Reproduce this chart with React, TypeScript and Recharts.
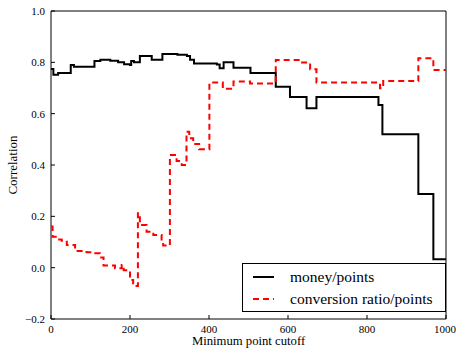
import { LineChart, Line, XAxis, YAxis, Legend, ReferenceArea } from 'recharts';

// minimum point cutoff -> correlation
const moneyCutoff = [0, 6, 18, 50, 58, 110, 125, 150, 170, 185, 200, 203, 210, 225, 255, 282, 320, 344, 352, 362, 420, 427, 437, 462, 505, 569, 605, 647, 672, 829, 839, 930, 968, 1000];
const moneyCorr = [0.774, 0.752, 0.758, 0.79, 0.783, 0.805, 0.81, 0.806, 0.8, 0.793, 0.79, 0.805, 0.8, 0.825, 0.81, 0.832, 0.83, 0.825, 0.81, 0.795, 0.792, 0.777, 0.8, 0.779, 0.758, 0.705, 0.665, 0.621, 0.665, 0.634, 0.52, 0.287, 0.033, 0.033];

const ratioCutoff = [0, 4, 15, 27, 40, 61, 90, 103, 124, 133, 162, 179, 184, 200, 208, 220, 225, 242, 259, 280, 284, 301, 318, 331, 343, 350, 360, 375, 401, 435, 462, 504, 569, 630, 656, 672, 833, 841, 930, 968, 1000];
const ratioCorr = [0.16, 0.12, 0.11, 0.105, 0.088, 0.065, 0.06, 0.056, 0.04, 0.008, -0.002, 0.01, -0.01, -0.048, -0.071, 0.212, 0.166, 0.14, 0.127, 0.1, 0.086, 0.439, 0.416, 0.4, 0.53, 0.504, 0.482, 0.461, 0.721, 0.697, 0.725, 0.718, 0.809, 0.799, 0.773, 0.721, 0.699, 0.727, 0.816, 0.77, 0.77];

const xTicks = [0, 200, 400, 600, 800, 1000];
const yTicks = [-0.2, 0, 0.2, 0.4, 0.6, 0.8, 1.0];

const moneyData = moneyCutoff.map((x, i) => ({ x, y: moneyCorr[i] }));
const ratioData = ratioCutoff.map((x, i) => ({ x, y: ratioCorr[i] }));

const FONT = "'Liberation Serif', 'DejaVu Serif', serif";

const fmtY = (v: number) => (v < 0 ? '\u2212' : '') + Math.abs(v).toFixed(1);

function LegendBox() {
  const row = { display: 'flex', alignItems: 'center', height: 22 };
  return (
    <div style={{ border: '1px solid #000', background: '#fff', width: 204, height: 49, fontFamily: FONT, fontSize: 15.5, padding: '2px 0 0 0', boxSizing: 'border-box' }}>
      <div style={row}>
        <svg width={47} height={10}><line x1={10} y1={5} x2={31} y2={5} stroke="#000" strokeWidth={2} /></svg>
        <span>money/points</span>
      </div>
      <div style={row}>
        <svg width={47} height={10}><line x1={10} y1={5} x2={31} y2={5} stroke="#ff0000" strokeWidth={2} strokeDasharray="6 4" /></svg>
        <span>conversion ratio/points</span>
      </div>
    </div>
  );
}

export default function App() {
  return (
    <div style={{ position: 'absolute', left: 0, top: 0, background: '#fff', fontFamily: FONT }}>
      <LineChart width={456} height={349} margin={{ top: 11, right: 10, left: 0, bottom: 0 }} style={{ fontFamily: FONT }}>
        <XAxis
          xAxisId="bottom"
          type="number"
          dataKey="x"
          domain={[0, 1000]}
          ticks={xTicks}
          height={30}
          axisLine={false}
          tickSize={-4}
          tickMargin={10}
          tickLine={{ stroke: '#000' }}
          tick={{ fill: '#000', fontFamily: FONT, fontSize: 11 }}
          label={{ value: 'Minimum point cutoff', position: 'insideBottom', offset: 4, fill: '#000', fontFamily: FONT, fontSize: 12.7 }}
        />
        <XAxis
          xAxisId="top"
          orientation="top"
          type="number"
          domain={[0, 1000]}
          ticks={xTicks}
          height={0}
          axisLine={false}
          tickSize={-4}
          tickLine={{ stroke: '#000' }}
          tick={false}
        />
        <YAxis
          yAxisId="left"
          type="number"
          domain={[-0.2, 1.0]}
          ticks={yTicks}
          width={51}
          axisLine={false}
          tickSize={-4}
          tickMargin={10}
          tickLine={{ stroke: '#000' }}
          tickFormatter={fmtY}
          tick={{ fill: '#000', fontFamily: FONT, fontSize: 11 }}
          label={{ value: 'Correlation', angle: -90, position: 'insideLeft', offset: 12, fill: '#000', fontFamily: FONT, fontSize: 13, style: { textAnchor: 'middle' } }}
        />
        <YAxis
          yAxisId="right"
          orientation="right"
          type="number"
          domain={[-0.2, 1.0]}
          ticks={yTicks}
          width={0}
          axisLine={false}
          tickSize={-4}
          tickLine={{ stroke: '#000' }}
          tick={false}
        />
        <ReferenceArea xAxisId="bottom" yAxisId="left" x1={0} x2={1000} y1={-0.2} y2={1.0} fill="none" stroke="#000" strokeWidth={1} />
        <Line
          xAxisId="bottom"
          yAxisId="left"
          data={moneyData}
          dataKey="y"
          type="stepAfter"
          stroke="#000"
          strokeWidth={2}
          dot={false}
          isAnimationActive={false}
        />
        <Line
          xAxisId="bottom"
          yAxisId="left"
          data={ratioData}
          dataKey="y"
          type="stepAfter"
          stroke="#ff0000"
          strokeWidth={2}
          strokeDasharray="6 4"
          dot={false}
          isAnimationActive={false}
        />
        <Legend
          layout="vertical"
          align="center"
          verticalAlign="middle"
          content={() => <LegendBox />}
          wrapperStyle={{ left: 242, top: 263, width: 204 }}
        />
      </LineChart>
    </div>
  );
}
